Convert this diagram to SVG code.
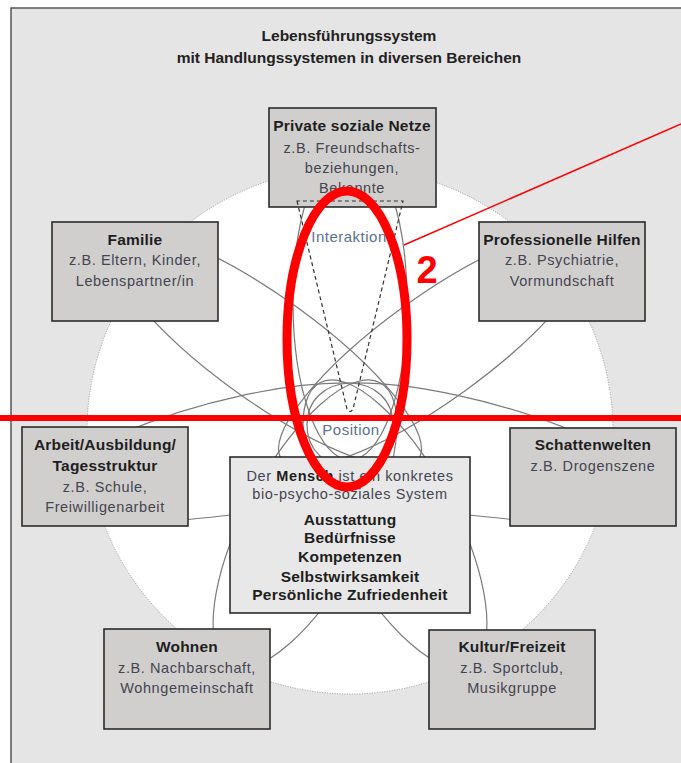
<svg xmlns="http://www.w3.org/2000/svg" width="681" height="763" viewBox="0 0 681 763">
<style>
.frame{fill:#e5e5e5;stroke:#555;stroke-width:1.5}
.disc{fill:#fff;stroke:#999;stroke-width:1;stroke-dasharray:1 1.5}
.loop{fill:none;stroke:#7a7a7a;stroke-width:1.2}
.dash{fill:none;stroke:#333;stroke-width:1.2;stroke-dasharray:4 3}
.box{fill:#d0cfce;stroke:#2b2b2b;stroke-width:1.6}
.mbox{fill:#e8e8e8;stroke:#2b2b2b;stroke-width:1.6}
text{font-family:"Liberation Sans",Arial,sans-serif;text-anchor:middle}
.t{font-weight:bold;font-size:15.5px;fill:#1e1e1e;letter-spacing:0.2px}
.s{font-size:14.5px;fill:#454550;letter-spacing:0.6px}
.lab{font-size:15px;fill:#5a7090;letter-spacing:0.5px}
.title{font-weight:bold;font-size:15.5px;fill:#222}
.red{fill:none;stroke:#ff0000}
</style>
<rect class="frame" x="11" y="8" width="690" height="780"/>
<g id="title">
<text class="title" x="349" y="41">Lebensführungssystem</text>
<text class="title" x="349" y="63">mit Handlungssystemen in diversen Bereichen</text>
</g>
<circle class="disc" cx="350" cy="431" r="263"/>
<g id="connectors">
<ellipse class="loop" cx="266" cy="349" rx="188" ry="52" transform="rotate(35.8 266 349)"/>
<ellipse class="loop" cx="434" cy="349" rx="188" ry="52" transform="rotate(-35.8 434 349)"/>
<ellipse class="loop" cx="305" cy="524" rx="160" ry="60" transform="rotate(-62 305 524)"/>
<ellipse class="loop" cx="395" cy="524" rx="160" ry="60" transform="rotate(62 395 524)"/>
<ellipse class="loop" cx="350" cy="302" rx="57" ry="158"/>
<path class="loop" d="M120,434 C200,400 290,382 350,383 C375,384 393,400 393,425 C393,450 375,466 350,468 L240,514 Q205,518 150,523"/>
<path class="loop" d="M580,434 C500,400 410,382 350,383 C325,384 307,400 307,425 C307,450 325,466 350,468 L460,514 Q495,518 550,523"/>
</g>
<g id="interaktion">
<text class="lab" x="349" y="242">Interaktion</text>
</g>
<g id="position">
<text class="lab" x="351" y="435">Position</text>
</g>
<g id="private">
<rect class="box" x="269" y="108" width="167" height="99"/>
<text class="t" x="352" y="131">Private soziale Netze</text>
<text class="s" x="352" y="153">z.B. Freundschafts-</text>
<text class="s" x="352" y="173">beziehungen,</text>
<text class="s" x="352" y="193">Bekannte</text>
</g>
<path id="interaktion-link" class="dash" d="M297,201 L347,409 Q350,414 353,409 L403,201 Z"/>
<g id="familie">
<rect class="box" x="52" y="222" width="166" height="99"/>
<text class="t" x="135" y="245">Familie</text>
<text class="s" x="135" y="265">z.B. Eltern, Kinder,</text>
<text class="s" x="135" y="286">Lebenspartner/in</text>
</g>
<g id="professionelle">
<rect class="box" x="479" y="222" width="166" height="99"/>
<text class="t" x="562" y="245">Professionelle Hilfen</text>
<text class="s" x="562" y="265">z.B. Psychiatrie,</text>
<text class="s" x="562" y="286">Vormundschaft</text>
</g>
<g id="arbeit">
<rect class="box" x="22" y="427" width="166" height="99"/>
<text class="t" x="105" y="450">Arbeit/Ausbildung/</text>
<text class="t" x="105" y="471">Tagesstruktur</text>
<text class="s" x="105" y="492">z.B. Schule,</text>
<text class="s" x="105" y="512">Freiwilligenarbeit</text>
</g>
<g id="schattenwelten">
<rect class="box" x="510" y="428" width="166" height="98"/>
<text class="t" x="593" y="450">Schattenwelten</text>
<text class="s" x="593" y="471">z.B. Drogenszene</text>
</g>
<g id="mensch">
<rect class="mbox" x="230" y="457" width="240" height="156"/>
<text class="s" x="350" y="481">Der <tspan font-weight="bold" fill="#1e1e1e">Mensch</tspan> ist ein konkretes</text>
<text class="s" x="350" y="499">bio-psycho-soziales System</text>
<text class="t" x="350" y="525">Ausstattung</text>
<text class="t" x="350" y="543">Bedürfnisse</text>
<text class="t" x="350" y="562">Kompetenzen</text>
<text class="t" x="350" y="582">Selbstwirksamkeit</text>
<text class="t" x="350" y="600">Persönliche Zufriedenheit</text>
</g>
<g id="wohnen">
<rect class="box" x="104" y="629" width="166" height="100"/>
<text class="t" x="187" y="652">Wohnen</text>
<text class="s" x="187" y="673">z.B. Nachbarschaft,</text>
<text class="s" x="187" y="693">Wohngemeinschaft</text>
</g>
<g id="kultur">
<rect class="box" x="429" y="630" width="166" height="99"/>
<text class="t" x="512" y="652">Kultur/Freizeit</text>
<text class="s" x="512" y="673">z.B. Sportclub,</text>
<text class="s" x="512" y="693">Musikgruppe</text>
</g>
<g id="annotation">
<ellipse class="red" cx="347" cy="339" rx="60" ry="148" stroke-width="9"/>
<line class="red" x1="0" y1="418" x2="681" y2="418" stroke-width="6"/>
<line class="red" x1="404" y1="245" x2="681" y2="124" stroke-width="1.5"/>
<text x="427" y="283" font-size="38" font-weight="bold" fill="#ff0000">2</text>
</g>
</svg>
